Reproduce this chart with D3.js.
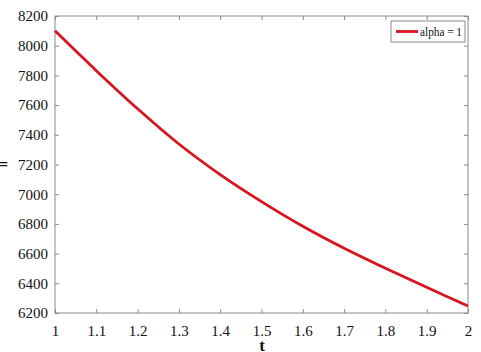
<!DOCTYPE html>
<html>
<head>
<meta charset="utf-8">
<script src="https://cdn.jsdelivr.net/npm/d3@7"></script>
<style>
html,body{margin:0;padding:0;background:#fff;}
svg{display:block;}
</style>
</head>
<body>
<svg id="chart" width="481" height="352"></svg>
<script>
const tValues = [1, 1.1, 1.2, 1.3, 1.4, 1.5, 1.6, 1.7, 1.8, 1.9, 2];
const alpha1Values = [8100, 7832, 7575, 7338, 7132, 6950, 6784, 6636, 6502, 6373, 6247];
const xTicks = [1, 1.1, 1.2, 1.3, 1.4, 1.5, 1.6, 1.7, 1.8, 1.9, 2];
const yTicks = [6200, 6400, 6600, 6800, 7000, 7200, 7400, 7600, 7800, 8000, 8200];
const seriesName = "alpha = 1";
const xLabel = "t";

const FONT = "Liberation Serif";
const svg = d3.select("#chart");
const m = {left: 55, right: 468, top: 16, bottom: 313};
const x = d3.scaleLinear().domain([1, 2]).range([m.left, m.right]);
const y = d3.scaleLinear().domain([6200, 8200]).range([m.bottom, m.top]);
const axisColor = "#8a8a8a";

svg.append("rect").attr("x", m.left).attr("y", m.top)
  .attr("width", m.right - m.left).attr("height", m.bottom - m.top)
  .attr("fill", "none").attr("stroke", axisColor).attr("stroke-width", 1);

function styleAxis(g) {
  g.attr("font-family", FONT).attr("font-size", 15);
  g.select(".domain").remove();
  g.selectAll(".tick line").attr("stroke", axisColor);
  g.selectAll(".tick text").attr("fill", "#111").attr("font-family", FONT).attr("font-size", 15);
}

svg.append("g").attr("transform", `translate(0,${m.bottom})`)
  .call(d3.axisBottom(x).tickValues(xTicks).tickFormat(d => d3.format("")(d)).tickSizeInner(-4).tickSizeOuter(0).tickPadding(12))
  .call(styleAxis);
svg.append("g").attr("transform", `translate(0,${m.top})`)
  .call(d3.axisTop(x).tickValues(xTicks).tickFormat("").tickSizeInner(-4).tickSizeOuter(0))
  .call(styleAxis);
svg.append("g").attr("transform", `translate(${m.left},0)`)
  .call(d3.axisLeft(y).tickValues(yTicks).tickFormat(d3.format("d")).tickSizeInner(-4).tickSizeOuter(0).tickPadding(7))
  .call(styleAxis);
svg.append("g").attr("transform", `translate(${m.right},0)`)
  .call(d3.axisRight(y).tickValues(yTicks).tickFormat("").tickSizeInner(-4).tickSizeOuter(0))
  .call(styleAxis);

const data = tValues.map((t, i) => ({t, v: alpha1Values[i]}));
svg.append("path").datum(data)
  .attr("fill", "none").attr("stroke", "#d8141f").attr("stroke-width", 2.8)
  .attr("stroke-linejoin", "round")
  .attr("d", d3.line().x(d => x(d.t)).y(d => y(d.v)).curve(d3.curveCatmullRom));

svg.append("text").attr("x", (m.left + m.right) / 2 + 0.5).attr("y", 351)
  .attr("text-anchor", "middle").attr("font-family", FONT).attr("font-size", 17).attr("font-weight", "bold")
  .attr("fill", "#111").text(xLabel);

svg.append("text").attr("x", -1).attr("y", 170)
  .attr("font-family", FONT).attr("font-size", 16).attr("font-weight", "bold").attr("fill", "#111").text("=");

const lg = svg.append("g");
lg.append("rect").attr("x", 391).attr("y", 21).attr("width", 74).attr("height", 21)
  .attr("fill", "#fff").attr("stroke", axisColor).attr("stroke-width", 1);
lg.append("line").attr("x1", 396).attr("x2", 418).attr("y1", 31.5).attr("y2", 31.5)
  .attr("stroke", "#d8141f").attr("stroke-width", 2.8);
lg.append("text").attr("x", 420).attr("y", 36).attr("font-family", FONT).attr("font-size", 12)
  .attr("textLength", 42).attr("lengthAdjust", "spacingAndGlyphs")
  .attr("fill", "#111").text(seriesName);
</script>
</body>
</html>
